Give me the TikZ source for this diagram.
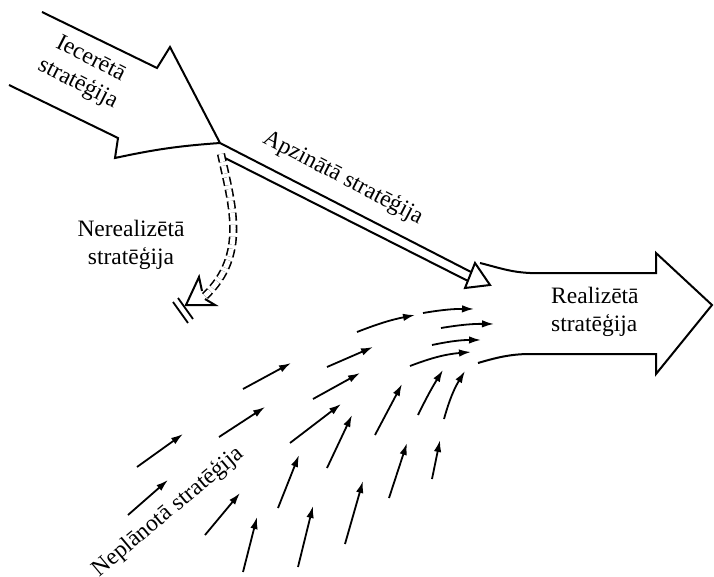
\documentclass[tikz,border=0pt]{standalone}
\usepackage{fontspec}
\setmainfont{Liberation Serif}
\usetikzlibrary{arrows.meta}

\begin{document}
\begin{tikzpicture}[x=1pt,y=-1pt,>={Latex[length=12pt,width=7.5pt]},
  bigarrow/.style={line width=2pt,line join=miter},
  txt/.style={font=\fontsize{23.5}{28}\selectfont,inner sep=0pt},
  emerge/.style={line width=1.8pt,->}]

\useasboundingbox[fill=white] (0,0) rectangle (714,577);

% Intended strategy, the big arrow from the top left
\draw[bigarrow] (42,12) -- (157,68) -- (170,47) -- (220,143)
  to[bend right=4] (115,158) -- (118,138) -- (9,85);

% Deliberate strategy, a double shaft with an open head
\draw[bigarrow] (220,143) -- (471,272);
\draw[bigarrow] (225,158) -- (468,281);
\draw[bigarrow] (475,263) -- (490,285) -- (465,288) -- cycle;

% Unrealized strategy, dashed double line that ends at a stop
\draw[line width=1.6pt,double distance=5pt,dash pattern=on 8pt off 4pt]
  (221,154) .. controls (232,205) and (248,255) .. (205,296);
\draw[bigarrow] (202,291) -- (199,277) -- (186,305) -- (215,305) -- (205,299);
\draw[line width=1.8pt] (173,302) -- (188,323) (178,298) -- (193,319);

% Realized strategy, the big arrow on the right
\draw[bigarrow] (480,263) .. controls (500,268) and (510,272) .. (530,273)
  -- (656,273) -- (656,253) -- (712,305) -- (656,374) -- (656,354)
  -- (530,354) .. controls (510,354) and (495,358) .. (478,363);

% Emergent strategy, the swarm of small arrows
\foreach \xa/\ya/\xb/\yb/\bd in {
  137/467/183/434/0, 128/515/168/480/0, 205/535/240/493/0, 219/437/265/407/0,
  243/389/291/363/0, 243/572/257/517/0, 278/508/299/455/0, 290/443/341/404/0,
  298/567/313/506/0, 313/399/360/373/0, 327/367/373/347/0, 327/468/352/415/0,
  345/544/363/481/0, 357/332/415/315/5, 375/435/402/384/0, 389/498/407/443/0,
  432/479/440/440/0, 418/415/443/370/3, 444/419/465/371/8, 410/366/471/352/8,
  432/345/481/340/6, 441/328/494/324/5, 423/313/474/309/5} {
  \draw[emerge] (\xa,\ya) to[bend left=\bd] (\xb,\yb);
}

% Labels
\node[txt,rotate=-27,align=center] (intended) at (84,72) {Iecerētā\\stratēģija};
\node[txt,rotate=-27.5] (deliberate) at (343,178) {Apzinātā stratēģija};
\node[txt,align=center] (unrealized) at (131,245) {Nerealizētā\\stratēģija};
\node[txt,align=left,anchor=west] (realized) at (551,312) {Realizētā\\stratēģija};
\node[txt,rotate=40] (emergent) at (168,512) {Neplānotā stratēģija};

\end{tikzpicture}
\end{document}
